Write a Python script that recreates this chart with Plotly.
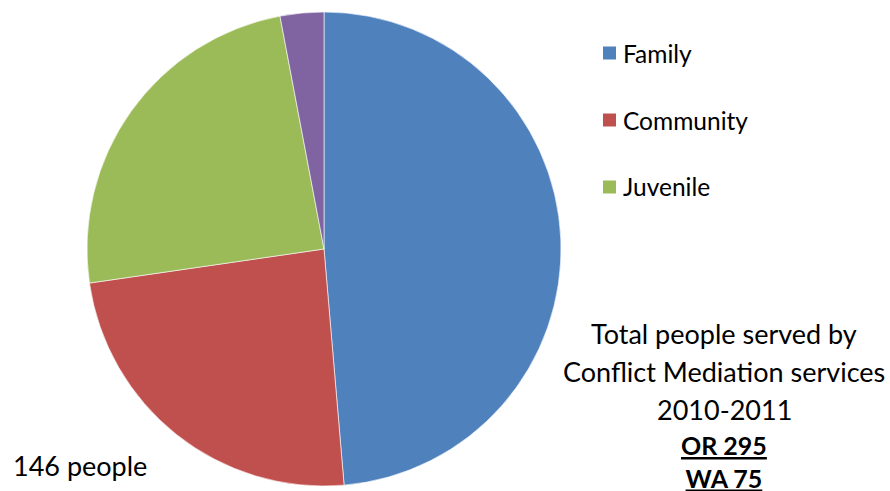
import plotly.graph_objects as go

labels = ["Family", "Community", "Juvenile", "Other"]
values = [180, 89, 90, 11]
colors = ["#4F81BD", "#C0504D", "#9BBB59", "#8064A2"]
legend_labels = ["Family", "Community", "Juvenile"]
note_lines = ["Total people served by", "Conflict Mediation services", "2010-2011"]
bold_lines = ["OR 295", "WA 75"]
side_note = "146 people"

W, H = 890, 491
FONT = "Lato"

fig = go.Figure()
fig.add_trace(go.Pie(
    labels=labels, values=values, sort=False, direction="clockwise", rotation=0,
    marker=dict(colors=colors, line=dict(color="white", width=0.6)),
    textinfo="none", hoverinfo="label+value", showlegend=False,
    domain=dict(x=[87 / W, 561 / W], y=[5 / H, 479 / H]),
))

shapes = []
annotations = []
leg_y = [53, 120, 187]
for lab, col, yy in zip(legend_labels, colors, leg_y):
    shapes.append(dict(type="rect", xref="paper", yref="paper",
                       x0=603 / W, x1=616 / W, y0=1 - (yy + 6.5) / H, y1=1 - (yy - 6.5) / H,
                       fillcolor=col, line=dict(width=0)))
    annotations.append(dict(text=lab, xref="paper", yref="paper", x=621 / W, y=1 - yy / H,
                            xanchor="left", yanchor="middle", showarrow=False,
                            font=dict(family=FONT, size=24.5, color="black")))

note_y = [333, 371, 409]
for t, yy in zip(note_lines, note_y):
    annotations.append(dict(text=t, xref="paper", yref="paper", x=724 / W, y=1 - yy / H,
                            xanchor="center", yanchor="middle", showarrow=False,
                            font=dict(family=FONT, size=27, color="black")))

annotations.append(dict(text="<br>".join(f"<b><u>{t}</u></b>" for t in bold_lines),
                        xref="paper", yref="paper", x=724 / W, y=1 - 461 / H,
                        xanchor="center", yanchor="middle", showarrow=False,
                        font=dict(family=FONT, size=25, color="black")))

annotations.append(dict(text=side_note, xref="paper", yref="paper", x=11 / W, y=1 - 465 / H,
                        xanchor="left", yanchor="middle", showarrow=False,
                        font=dict(family=FONT, size=27, color="black")))

fig.update_layout(width=W, height=H, margin=dict(l=0, r=0, t=0, b=0),
                  paper_bgcolor="white", plot_bgcolor="white",
                  shapes=shapes, annotations=annotations)
fig.write_html("out.html")
